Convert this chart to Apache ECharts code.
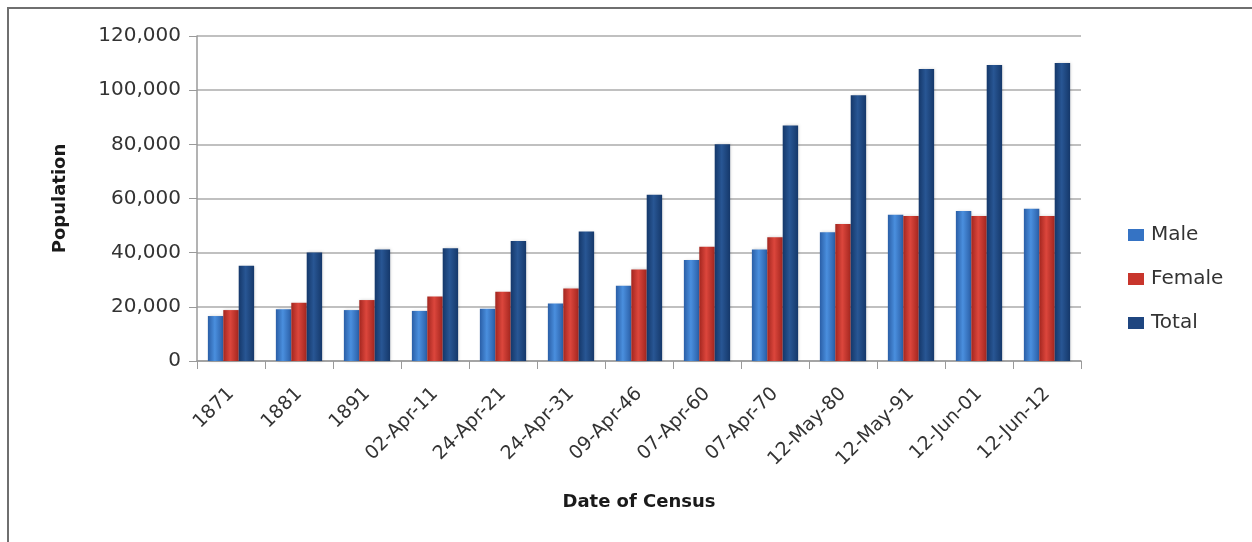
<!DOCTYPE html>
<html>
<head>
<meta charset="utf-8">
<title>Population by Census</title>
<script src="https://cdn.jsdelivr.net/npm/echarts@6/dist/echarts.min.js"></script>
<style>
  html, body { margin: 0; padding: 0; background: #ffffff; }
  #chart { width: 1252px; height: 542px; }
</style>
</head>
<body>
<div id="chart"></div>
<script>
// Census dates (category axis)
const censusDates = ['1871', '1881', '1891', '02-Apr-11', '24-Apr-21', '24-Apr-31', '09-Apr-46',
  '07-Apr-60', '07-Apr-70', '12-May-80', '12-May-91', '12-Jun-01', '12-Jun-12'];

// Population counts per census
const male   = [16600, 19100, 18800, 18500, 19300, 21200, 27800, 37300, 41200, 47500, 54000, 55400, 56200];
const female = [18800, 21500, 22500, 23800, 25600, 26800, 33800, 42200, 45700, 50600, 53500, 53500, 53500];
const total  = [35200, 40100, 41200, 41600, 44300, 47800, 61400, 80000, 87000, 98100, 107800, 109300, 110000];

const seriesNames = ['Male', 'Female', 'Total'];

// Horizontal shading to give each bar a rounded, bevelled look
function shade(edge, mid) {
  return new echarts.graphic.LinearGradient(0, 0, 1, 0, [
    { offset: 0, color: edge },
    { offset: 0.45, color: mid },
    { offset: 1, color: edge }
  ]);
}

const palette = [
  { edge: '#2a5ea6', mid: '#4a8fde', legend: '#3573c4' },
  { edge: '#a3261f', mid: '#dc463c', legend: '#c8352c' },
  { edge: '#15386a', mid: '#285694', legend: '#1f4680' }
];

const values = [male, female, total];
const font = 'DejaVu Sans';

const chart = echarts.init(document.getElementById('chart'));

chart.setOption({
  backgroundColor: '#ffffff',
  animation: false,
  graphic: [{
    type: 'rect',
    shape: { x: 8, y: 8, width: 1270, height: 560 },
    style: { fill: 'none', stroke: '#6f6f6f', lineWidth: 2 },
    silent: true
  }],
  grid: { left: 197, right: 171, top: 36, bottom: 181 },
  legend: {
    orient: 'vertical',
    left: 1123,
    top: 220,
    itemWidth: 16,
    itemHeight: 12,
    itemGap: 24,
    icon: 'rect',
    textStyle: { fontFamily: font, fontSize: 20, color: '#333333', padding: [0, 0, 0, 2] },
    data: seriesNames.map((n, i) => ({ name: n, itemStyle: { color: palette[i].legend } }))
  },
  xAxis: {
    type: 'category',
    data: censusDates,
    name: 'Date of Census',
    nameLocation: 'middle',
    nameGap: 132,
    nameTextStyle: { fontFamily: font, fontSize: 18, fontWeight: 'bold', color: '#1a1a1a' },
    axisLine: { lineStyle: { color: '#9a9a9a', width: 1.5 } },
    axisTick: { show: true, length: 8, alignWithLabel: false, lineStyle: { color: '#9a9a9a' } },
    axisLabel: {
      rotate: 45,
      margin: 30,
      fontFamily: font,
      fontSize: 19,
      color: '#333333',
      interval: 0
    }
  },
  yAxis: {
    type: 'value',
    min: 0,
    max: 120000,
    interval: 20000,
    name: 'Population',
    nameLocation: 'middle',
    nameGap: 128,
    nameRotate: 90,
    nameTextStyle: { fontFamily: font, fontSize: 18, fontWeight: 'bold', color: '#1a1a1a' },
    axisLine: { show: true, lineStyle: { color: '#9a9a9a', width: 1.5 } },
    axisTick: { show: true, inside: false, length: 8, lineStyle: { color: '#9a9a9a' } },
    splitLine: { lineStyle: { color: '#ababab', width: 1.5 } },
    axisLabel: {
      margin: 16,
      fontFamily: font,
      fontSize: 20,
      color: '#333333',
      formatter: v => v.toLocaleString('en-US')
    }
  },
  series: seriesNames.map((name, i) => ({
    name: name,
    type: 'bar',
    data: values[i],
    barGap: '0%',
    barCategoryGap: '32%',
    itemStyle: {
      color: shade(palette[i].edge, palette[i].mid),
      shadowColor: 'rgba(0,0,0,0.18)',
      shadowBlur: 3,
      shadowOffsetX: 1
    }
  }))
});
</script>
</body>
</html>
